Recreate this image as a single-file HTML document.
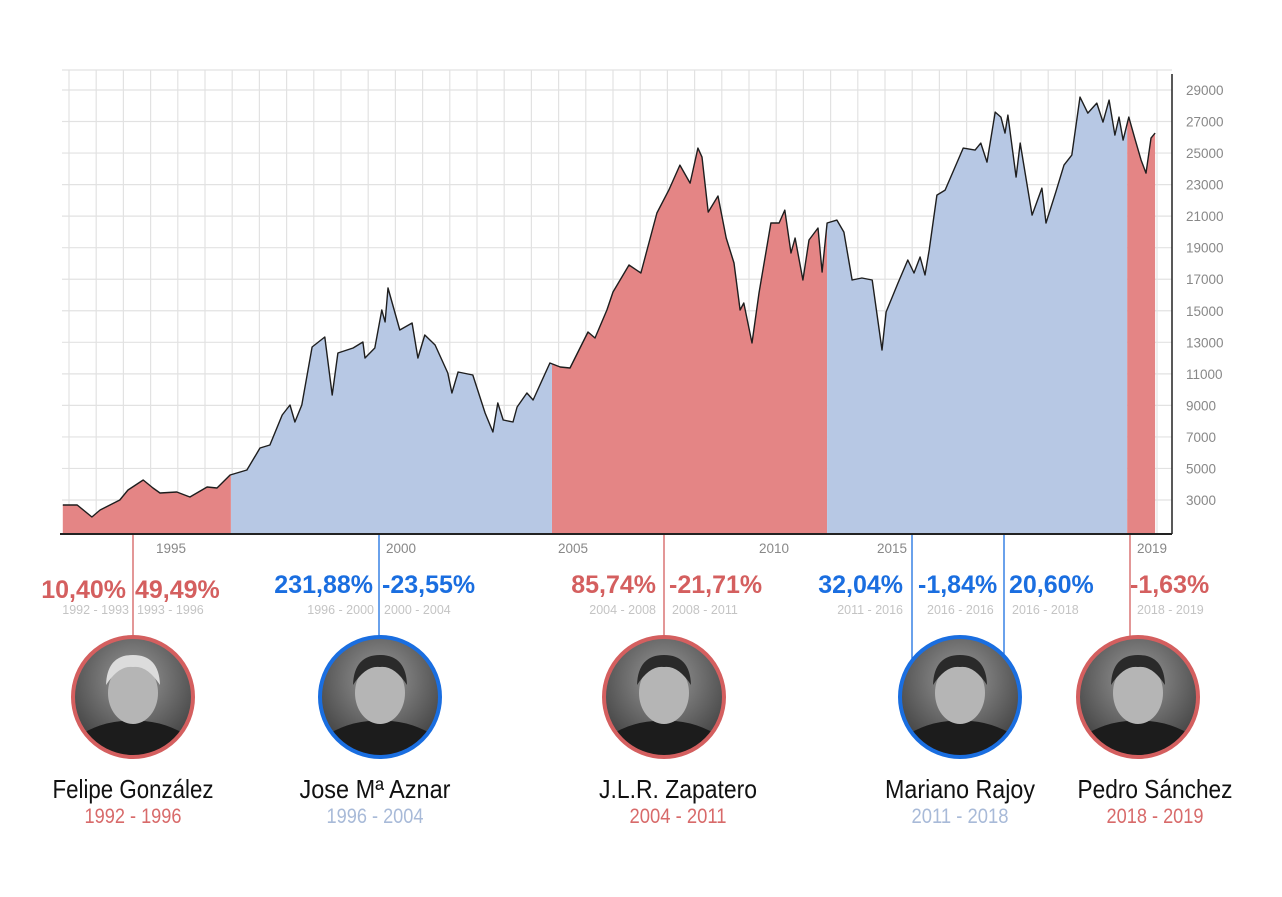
<!DOCTYPE html>
<html><head><meta charset="utf-8"><style>
html,body{margin:0;padding:0;background:#fff;}
svg{display:block;}
.pct{font-family:"Liberation Sans",sans-serif;font-weight:bold;font-size:25px;}
.sub{font-family:"Liberation Sans",sans-serif;font-size:12.5px;fill:#c4c4c4;}
.yt{font-family:"Liberation Sans",sans-serif;font-size:13.5px;fill:#888;}
.xt{font-family:"Liberation Sans",sans-serif;font-size:13.5px;fill:#888;}
.nm{font-family:"Liberation Sans",sans-serif;font-size:26px;fill:#111;}
.yr{font-family:"Liberation Sans",sans-serif;font-size:21px;}
</style></head><body>
<svg id="chart" width="1282" height="897" viewBox="0 0 1282 897" xmlns="http://www.w3.org/2000/svg">
<defs>
<radialGradient id="ph" cx="50%" cy="35%" r="70%"><stop offset="0" stop-color="#9a9a9a"/><stop offset="1" stop-color="#3a3a3a"/></radialGradient>
</defs>
<g id="grid"></g>
<g id="areas"></g>
<path id="line" fill="none" stroke="#1e1e1e" stroke-width="1.4" stroke-linejoin="round"/>
<line x1="60" y1="534" x2="1172" y2="534" stroke="#222" stroke-width="2"/>
<line x1="1172" y1="74" x2="1172" y2="534" stroke="#222" stroke-width="1.5"/>
<g id="yticks"></g>
<g>
<text class="xt" x="156" y="553">1995</text>
<text class="xt" x="386" y="553">2000</text>
<text class="xt" x="558" y="553">2005</text>
<text class="xt" x="759" y="553">2010</text>
<text class="xt" x="877" y="553">2015</text>
<text class="xt" x="1137" y="553">2019</text>
</g>
<g>
<line x1="133" y1="535" x2="133" y2="636" stroke="#d45f5f" stroke-width="1.3"/>
<line x1="379" y1="535" x2="379" y2="636" stroke="#1a6ee0" stroke-width="1.3"/>
<line x1="664" y1="535" x2="664" y2="636" stroke="#d45f5f" stroke-width="1.3"/>
<line x1="912" y1="535" x2="912" y2="660" stroke="#1a6ee0" stroke-width="1.3"/>
<line x1="1004" y1="535" x2="1004" y2="660" stroke="#1a6ee0" stroke-width="1.3"/>
<line x1="1130" y1="535" x2="1130" y2="638" stroke="#d45f5f" stroke-width="1.3"/>
</g>
<g>
<text class="pct" x="126" y="598" text-anchor="end" fill="#d45f5f">10,40%</text>
<text class="sub" x="129" y="614" text-anchor="end">1992 - 1993</text>
<text class="pct" x="135" y="598" fill="#d45f5f">49,49%</text>
<text class="sub" x="137" y="614">1993 - 1996</text>
<text class="pct" x="373" y="593" text-anchor="end" fill="#1a6ee0">231,88%</text>
<text class="sub" x="374" y="614" text-anchor="end">1996 - 2000</text>
<text class="pct" x="382" y="593" fill="#1a6ee0">-23,55%</text>
<text class="sub" x="384" y="614">2000 - 2004</text>
<text class="pct" x="656" y="593" text-anchor="end" fill="#d45f5f">85,74%</text>
<text class="sub" x="656" y="614" text-anchor="end">2004 - 2008</text>
<text class="pct" x="669" y="593" fill="#d45f5f">-21,71%</text>
<text class="sub" x="672" y="614">2008 - 2011</text>
<text class="pct" x="903" y="593" text-anchor="end" fill="#1a6ee0">32,04%</text>
<text class="sub" x="903" y="614" text-anchor="end">2011 - 2016</text>
<text class="pct" x="918" y="593" fill="#1a6ee0">-1,84%</text>
<text class="sub" x="927" y="614">2016 - 2016</text>
<text class="pct" x="1009" y="593" fill="#1a6ee0">20,60%</text>
<text class="sub" x="1012" y="614">2016 - 2018</text>
<text class="pct" x="1130" y="593" fill="#d45f5f">-1,63%</text>
<text class="sub" x="1137" y="614">2018 - 2019</text>
</g>
<g id="people"></g>
</svg>
<script>
const dates=[1992.52,1992.87,1993.23,1993.43,1993.91,1994.11,1994.48,1994.72,1994.89,1995.30,1995.62,1996.04,1996.28,1996.60,1997.01,1997.33,1997.57,1997.87,1998.06,1998.18,1998.35,1998.60,1998.91,1999.09,1999.23,1999.60,1999.84,1999.89,2000.13,2000.30,2000.38,2000.45,2000.74,2001.04,2001.18,2001.35,2001.60,2001.91,2002.01,2002.16,2002.52,2002.82,2003.01,2003.13,2003.26,2003.50,2003.60,2003.84,2003.99,2004.40,2004.65,2004.89,2005.33,2005.50,2005.79,2005.94,2006.33,2006.62,2007.01,2007.30,2007.57,2007.82,2008.01,2008.11,2008.26,2008.50,2008.70,2008.89,2009.04,2009.13,2009.33,2009.50,2009.79,2009.99,2010.13,2010.28,2010.38,2010.57,2010.72,2010.94,2011.04,2011.16,2011.40,2011.57,2011.77,2012.01,2012.26,2012.50,2012.60,2012.89,2013.13,2013.28,2013.43,2013.55,2013.65,2013.84,2014.04,2014.48,2014.77,2014.91,2015.06,2015.26,2015.40,2015.50,2015.57,2015.77,2015.87,2016.16,2016.40,2016.50,2016.74,2016.94,2017.13,2017.33,2017.52,2017.74,2017.89,2018.04,2018.18,2018.28,2018.38,2018.52,2018.67,2018.82,2018.94,2019.06,2019.16];
const values=[2683,2683,1922,2366,3000,3634,4268,3761,3444,3507,3190,3824,3761,4585,4902,6297,6487,8389,9023,7945,9023,12700,13334,9657,12320,12637,13017,12003,12637,15046,14285,16441,13778,14222,12003,13461,12827,11052,9784,11115,10925,8516,7311,9150,8072,7945,8896,9784,9340,11686,11432,11369,13651,13271,15046,16187,17899,17392,21196,22654,24239,23098,25317,24746,21259,22274,19611,18026,15046,15490,12954,16124,20562,20562,21386,18660,19611,16948,19484,20245,17455,20562,20752,19991,16948,17075,16948,12510,14919,16758,18216,17392,18406,17265,18850,22337,22654,25317,25190,25634,24429,27599,27282,26268,27409,23478,25634,21069,22781,20562,22527,24239,24873,28550,27536,28170,26965,28360,26141,27282,25824,27282,25887,24556,23732,25951,26268];
const periodStarts=[1992.5,1996.62,2004.45,2011.16,2018.48];
const periodEnds=[1996.62,2004.45,2011.16,2018.48,2019.21];
const periodParty=["psoe","pp","psoe","pp","psoe"];
const yTicks=[29000,27000,25000,23000,21000,19000,17000,15000,13000,11000,9000,7000,5000,3000];
const NS="http://www.w3.org/2000/svg";
const X0=1992.5, BASE=534;
function xs(t){return 62+(t-X0)*41;}
function ys(v){return 500-(v-3000)*0.01577;}
function mk(tag,attrs,parent){const e=document.createElementNS(NS,tag);for(const k in attrs)e.setAttribute(k,attrs[k]);parent.appendChild(e);return e;}
const grid=document.getElementById('grid');
for(let gx=69;gx<1160;gx+=27.2){const l=mk('line',{x1:gx,y1:70,x2:gx,y2:534,stroke:'#e2e2e2','stroke-width':1.2},grid);

}
const hy=[70].concat(yTicks.map(ys));
hy.forEach(y=>{const l=mk('line',{x1:62,y1:y,x2:1172,y2:y,stroke:'#e2e2e2','stroke-width':1.2},grid);

});
const yt=document.getElementById('yticks');
yTicks.forEach(v=>{const t=mk('text',{x:1186,y:ys(v)+5,class:'yt'},yt);t.textContent=v;

});
let d='';dates.forEach((t,i)=>{d+=(i?'L':'M')+xs(t).toFixed(1)+','+ys(values[i]).toFixed(1);});
document.getElementById('line').setAttribute('d',d);
const areaD=d+'L'+xs(dates[dates.length-1]).toFixed(1)+','+BASE+'L'+xs(dates[0]).toFixed(1)+','+BASE+'Z';
const areas=document.getElementById('areas');const defs=document.querySelector('defs');
periodStarts.forEach((s,i)=>{const cp=mk('clipPath',{id:'cp'+i},defs);
mk('rect',{x:xs(s),y:0,width:xs(periodEnds[i])-xs(s),height:BASE},cp);
const p=mk('path',{d:areaD,fill:periodParty[i]==='psoe'?'#e48585':'#b7c8e4','clip-path':'url(#cp'+i+')'},areas);

});
const people=[["Felipe González","1992 - 1996",133,"psoe",133,161],["Jose Mª Aznar","1996 - 2004",380,"pp",375,151],["J.L.R. Zapatero","2004 - 2011",664,"psoe",678,158],["Mariano Rajoy","2011 - 2018",960,"pp",960,150],["Pedro Sánchez","2018 - 2019",1138,"psoe",1155,155]];
const pg=document.getElementById('people');
people.forEach((p,i)=>{const col=p[3]==='psoe'?'#d45f5f':'#1a6ee0';const cx=p[2],cy=697;
const g=mk('g',{},pg);


const cp=mk('clipPath',{id:'pc'+i},defs);mk('circle',{cx:cx,cy:cy,r:59},cp);
const ph=mk('g',{'clip-path':'url(#pc'+i+')'},g);
mk('circle',{cx:cx,cy:cy,r:59,fill:'url(#ph)'},ph);
mk('path',{d:`M${cx-60},${cy+60} L${cx-60},${cy+42} Q${cx-30},${cy+22} ${cx},${cy+24} Q${cx+30},${cy+22} ${cx+60},${cy+42} L${cx+60},${cy+60}Z`,fill:'#1c1c1c'},ph);
mk('ellipse',{cx:cx,cy:cy-4,rx:25,ry:31,fill:'#b5b5b5'},ph);
mk('path',{d:`M${cx-27},${cy-12} Q${cx-26},${cy-42} ${cx},${cy-42} Q${cx+26},${cy-42} ${cx+27},${cy-12} Q${cx+14},${cy-32} ${cx},${cy-30} Q${cx-14},${cy-32} ${cx-27},${cy-12}Z`,fill:i===0?'#dcdcdc':'#2a2a2a'},ph);
mk('circle',{cx:cx,cy:cy,r:60,fill:'none',stroke:col,'stroke-width':4},g);
const n=mk('text',{x:p[4],y:798,class:'nm','text-anchor':'middle',textLength:p[5],lengthAdjust:'spacingAndGlyphs'},g);n.textContent=p[0];


const y=mk('text',{x:p[4],y:823,class:'yr','text-anchor':'middle',textLength:97,lengthAdjust:'spacingAndGlyphs',fill:p[3]==='psoe'?'#d86a6a':'#a8bad8'},g);y.textContent=p[1];

});
</script>
</body></html>
